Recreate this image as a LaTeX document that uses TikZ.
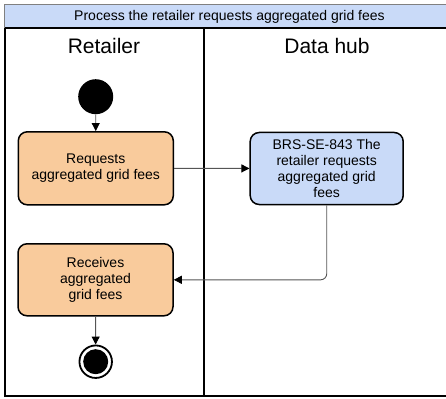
\documentclass[tikz,border=0pt]{standalone}
\usepackage{fontspec}
\setmainfont{Liberation Sans}
\usetikzlibrary{arrows.meta}
\definecolor{peach}{HTML}{F9CB9C}
\definecolor{lightblue}{HTML}{C9DAF8}
\definecolor{conngray}{HTML}{555555}
\tikzset{
  actbox/.style={draw=black, line width=1.5pt, rounded corners=9pt, align=center,
    font=\fontsize{14}{16.3}\selectfont, inner sep=2pt},
  retailbox/.style={actbox, fill=peach, minimum width=155pt, minimum height=73pt},
  hubbox/.style={actbox, fill=lightblue, minimum width=153pt, minimum height=72pt},
  conn/.style={draw=conngray, line width=0.9pt, -{Triangle[length=8pt,width=8pt,black]}},
  laneline/.style={draw=black, line width=2pt},
  lanetitle/.style={font=\fontsize{21}{24}\selectfont, inner sep=0pt}
}
\begin{document}
\begin{tikzpicture}[x=1pt,y=-1pt]
\useasboundingbox (0,0) rectangle (446,398);
% pool title bar
\path[fill=lightblue, draw=gray, line width=0.8pt] (4.5,4) rectangle (452,28.5);
\node[font=\fontsize{14}{16}\selectfont, inner sep=0pt] (title) at (229.5,16.5) {Process the retailer requests aggregated grid fees};
% lanes
\draw[laneline] (5,28.5) -- (452,28.5);
\draw[laneline] (5,28.5) -- (5,396) -- (452,396);
\draw[laneline] (204,28.5) -- (204,396);
\node[lanetitle] (laneR) at (104,46) {Retailer};
\node[lanetitle] (laneD) at (327,46) {Data hub};
% start
\node[circle, fill=black, minimum size=35pt, inner sep=0pt] (start) at (95.7,96.7) {};
\node[retailbox] (req) at (95.8,168.3) {Requests\\aggregated grid fees};
\node[hubbox] (brs) at (326.7,168.5) {BRS-SE-843 The\\retailer requests\\aggregated grid\\fees};
\node[retailbox, minimum height=72pt] (rec) at (95.5,279.8) {Receives\\aggregated\\grid fees};
% end
\node[circle, draw=black, line width=1.8pt, fill=white, minimum size=32.5pt, inner sep=0pt] (end) at (95.7,361.7) {};
\node[circle, fill=black, minimum size=25pt, inner sep=0pt] (endin) at (end.center) {};
% connectors
\draw[conn] (start) -- (req);
\draw[conn] (req) -- (brs);
\draw[conn, rounded corners=6pt] (brs.south) |- (rec.east);
\draw[conn] (rec) -- (end);
\end{tikzpicture}
\end{document}
